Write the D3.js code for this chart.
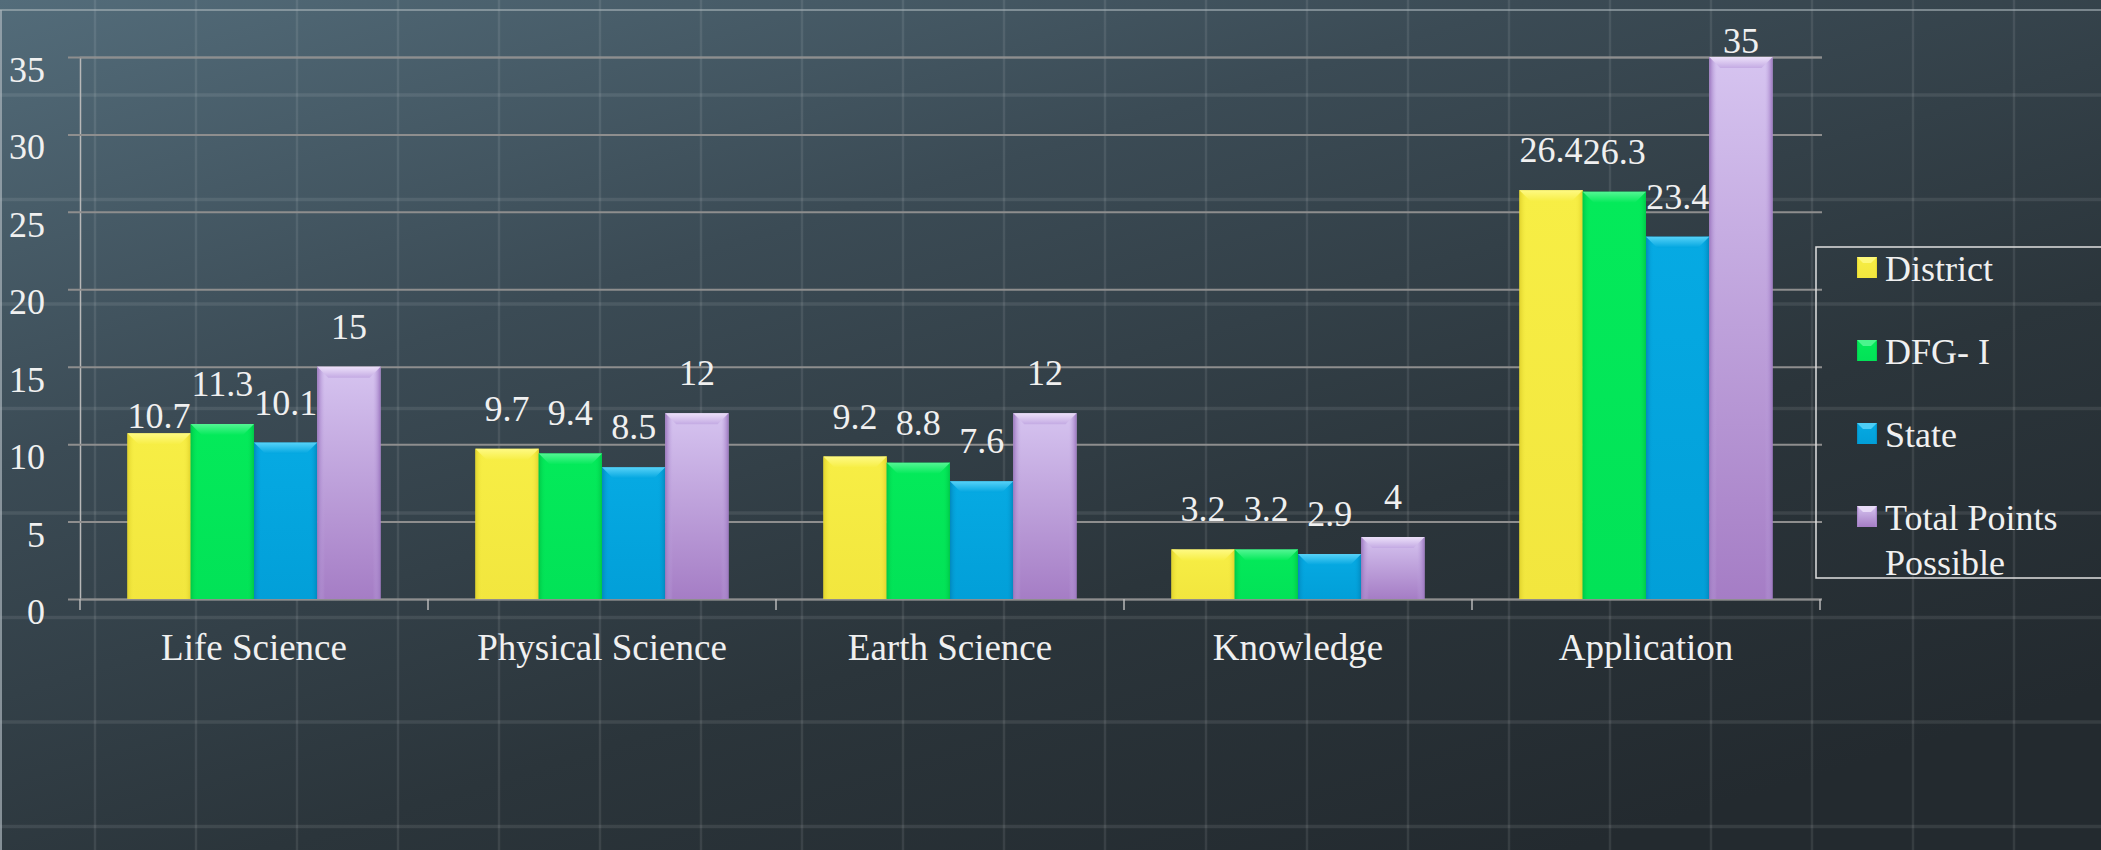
<!DOCTYPE html>
<html>
<head>
<meta charset="utf-8">
<script src="https://cdnjs.cloudflare.com/ajax/libs/d3/7.8.5/d3.min.js"></script>
<style>
html,body{margin:0;padding:0;background:#2a3338;}
svg{display:block;}
svg text{font-family:'Liberation Serif','DejaVu Serif',serif !important;}
</style>
</head>
<body>
<svg id="chart" width="2101" height="850"></svg>
<script>
// ---------- data ----------
const categories = ["Life Science", "Physical Science", "Earth Science", "Knowledge", "Application"];
const seriesNames = ["District", "DFG- I", "State", "Total Points Possible"];
const district = [10.7, 9.7, 9.2, 3.2, 26.4];
const dfg = [11.3, 9.4, 8.8, 3.2, 26.3];
const state = [10.1, 8.5, 7.6, 2.9, 23.4];
const totalPossible = [15, 12, 12, 4, 35];
const yTicks = [0, 5, 10, 15, 20, 25, 30, 35];

const seriesValues = [district, dfg, state, totalPossible];
const seriesColors = [
  {base:"#f7ee45", dark:"#e0d22c", light:"#fffb8a", top:"#f7ee45", bottom:"#f2e63e"},
  {base:"#04ea5a", dark:"#00c848", light:"#5cf79a", top:"#04ea5a", bottom:"#02e257"},
  {base:"#02a6e0", dark:"#0388bd", light:"#5fd6fa", top:"#06aae3", bottom:"#029fd8"},
  {base:"#c2a8e2", dark:"#9c77bf", light:"#efe4fb", top:"#d6c4f0", bottom:"#a57dc5"}
];
const FONT = "'Liberation Serif','DejaVu Serif',serif";

const W = 2101, H = 850;
const svg = d3.select("#chart").attr("font-family", FONT);
const defs = svg.append("defs");

// ---------- background ----------
const bg = defs.append("linearGradient").attr("id","bg").attr("x1","0").attr("y1","0").attr("x2","0.75").attr("y2","1");
bg.append("stop").attr("offset","0").attr("stop-color","#536c7a");
bg.append("stop").attr("offset","0.35").attr("stop-color","#3b4b55");
bg.append("stop").attr("offset","0.7").attr("stop-color","#2b353b");
bg.append("stop").attr("offset","1").attr("stop-color","#232a2f");
svg.append("rect").attr("width",W).attr("height",H).attr("fill","url(#bg)");

// faint chalkboard grid (decorative texture)
const texture = svg.append("g").attr("stroke","#ffffff").attr("stroke-opacity",0.09);
d3.range(95, W, 101).forEach(x => texture.append("line").attr("x1",x).attr("x2",x).attr("y1",0).attr("y2",H).attr("stroke-width",2.5));
d3.range(95, H, 104.5).forEach(y => texture.append("line").attr("x1",0).attr("x2",W).attr("y1",y).attr("y2",y).attr("stroke-width",3.5));
// frame lines
svg.append("line").attr("x1",0).attr("x2",W).attr("y1",10).attr("y2",10).attr("stroke","#a9b4ba").attr("stroke-width",1.5).attr("stroke-opacity",0.8);
svg.append("line").attr("x1",1).attr("x2",1).attr("y1",10).attr("y2",H).attr("stroke","#a9b4ba").attr("stroke-width",2).attr("stroke-opacity",0.7);

// ---------- scales ----------
const plot = {left:80, right:1820, top:57, bottom:599};
const x0 = d3.scaleBand().domain(categories).range([plot.left, plot.right]).paddingInner(0).paddingOuter(0);
const x1 = d3.scaleBand().domain(seriesNames).range([0, x0.bandwidth()]).paddingInner(0).paddingOuter(0.75);
const y = d3.scaleLinear().domain([0, 35]).range([plot.bottom, plot.top]);

// ---------- gridlines & y axis ----------
const yAxis = d3.axisLeft(y).tickValues(yTicks).tickSize(-(plot.right - plot.left + 2)).tickPadding(35).tickFormat(d3.format("d"));
const gy = svg.append("g").attr("transform",`translate(${plot.left},0)`).call(yAxis).attr("font-family", FONT);
gy.select(".domain").attr("stroke","#b8b8b8").attr("stroke-width",1.5);
gy.selectAll(".tick line").attr("x1",-12).attr("stroke","#8e8e8e").attr("stroke-width",2);
gy.selectAll(".tick text").attr("fill","#f0f0f0").attr("font-size","36px")
  .attr("font-family",FONT).attr("dy","0.68em").attr("x",-35).attr("text-anchor","end");

// x axis ticks at category boundaries
const gx = svg.append("g").attr("transform",`translate(0,${plot.bottom})`);
const boundaries = categories.map(c => x0(c)).concat([plot.right]);
gx.selectAll("line.bt").data(boundaries).join("line").attr("class","bt")
  .attr("x1",d=>d).attr("x2",d=>d).attr("y1",0).attr("y2",11).attr("stroke","#b8b8b8").attr("stroke-width",1.5);
gx.selectAll("text.cat").data(categories).join("text").attr("class","cat")
  .attr("x",d=>x0(d)+x0.bandwidth()/2).attr("y",61).attr("font-family",FONT)
  .attr("text-anchor","middle").attr("fill","#f0f0f0").attr("font-size","37px").text(d=>d);

// ---------- bar gradients ----------
seriesColors.forEach((c,i) => {
  const g = defs.append("linearGradient").attr("id","bh"+i).attr("x1","0").attr("x2","1").attr("y1","0").attr("y2","0");
  g.append("stop").attr("offset","0").attr("stop-color",c.dark);
  g.append("stop").attr("offset","0.12").attr("stop-color",c.base).attr("stop-opacity",0);
  g.append("stop").attr("offset","0.88").attr("stop-color",c.base).attr("stop-opacity",0);
  g.append("stop").attr("offset","1").attr("stop-color",c.dark);
  const v = defs.append("linearGradient").attr("id","bv"+i).attr("x1","0").attr("x2","0").attr("y1","0").attr("y2","1");
  v.append("stop").attr("offset","0").attr("stop-color",c.top);
  v.append("stop").attr("offset","1").attr("stop-color",c.bottom);
  const t = defs.append("linearGradient").attr("id","bt"+i).attr("x1","0").attr("x2","0").attr("y1","0").attr("y2","1");
  t.append("stop").attr("offset","0").attr("stop-color",c.light);
  t.append("stop").attr("offset","1").attr("stop-color",c.base);
});

// ---------- bars ----------
const barData = [];
seriesNames.forEach((s,si) => categories.forEach((c,ci) => barData.push({s, si, c, ci, v: seriesValues[si][ci]})));

const bars = svg.append("g").selectAll("g.bar").data(barData).join("g").attr("class","bar");
bars.append("rect")
  .attr("x",d=>x0(d.c)+x1(d.s)).attr("y",d=>y(d.v))
  .attr("width",x1.bandwidth()).attr("height",d=>y(0)-y(d.v))
  .attr("fill",d=>`url(#bv${d.si})`);
bars.append("rect")
  .attr("x",d=>x0(d.c)+x1(d.s)).attr("y",d=>y(d.v))
  .attr("width",x1.bandwidth()).attr("height",d=>y(0)-y(d.v))
  .attr("fill",d=>`url(#bh${d.si})`);
const bev = 11;
bars.append("path")
  .attr("d",d=>{
    const xl = x0(d.c)+x1(d.s), xr = xl + x1.bandwidth(), yt = y(d.v);
    return `M${xl},${yt}L${xr},${yt}L${xr-bev},${yt+bev}L${xl+bev},${yt+bev}Z`;
  })
  .attr("fill",d=>`url(#bt${d.si})`).attr("opacity",0.9);

// ---------- value labels ----------
const labelNudge = {"District|Life Science": 5};
svg.append("g").attr("font-family",FONT).selectAll("text.val").data(barData).join("text").attr("class","val")
  .attr("x",d=>x0(d.c)+x1(d.s)+x1.bandwidth()/2)
  .attr("y",d=>{
    const off = labelNudge[d.s+"|"+d.c] !== undefined ? labelNudge[d.s+"|"+d.c] : 28;
    return Math.max(y(d.v)-off, y(35)-4);
  })
  .attr("font-family",FONT)
  .attr("text-anchor","middle").attr("fill","#f0f0f0").attr("font-size","36px")
  .text(d=>d.v);

// ---------- legend ----------
const lg = svg.append("g").attr("font-family",FONT);
lg.append("rect").attr("x",1816).attr("y",247).attr("width",320).attr("height",331)
  .attr("fill","none").attr("stroke","#e0e0e0").attr("stroke-width",1.5);
const legendLines = [["District"],["DFG- I"],["State"],["Total Points","Possible"]];
seriesNames.forEach((s,i) => {
  const by = 281 + i*83;
  const c = seriesColors[i];
  lg.append("rect").attr("x",1857).attr("y",by-24).attr("width",20).attr("height",21).attr("fill",`url(#bv${i})`);
  lg.append("rect").attr("x",1857).attr("y",by-24).attr("width",20).attr("height",21).attr("fill",`url(#bh${i})`);
  lg.append("path").attr("d",`M1857,${by-24}L1877,${by-24}L1871,${by-18}L1863,${by-18}Z`).attr("fill",c.light).attr("opacity",0.8);
  const t = lg.append("text").attr("x",1885).attr("y",by).attr("fill","#f0f0f0").attr("font-size","36px").attr("font-family",FONT);
  legendLines[i].forEach((ln,k) => t.append("tspan").attr("x",1885).attr("dy",k===0?0:45).text(ln));
});
</script>
</body>
</html>
